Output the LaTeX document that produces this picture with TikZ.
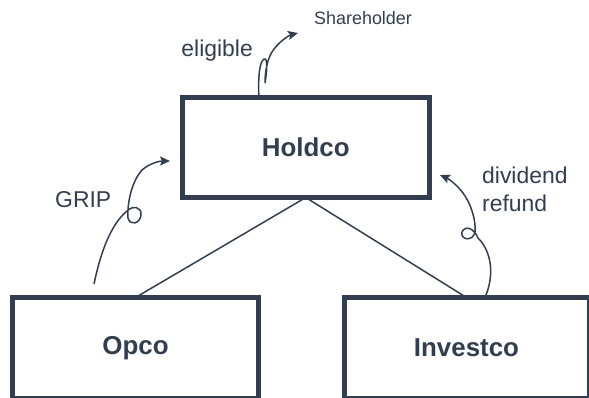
\documentclass[tikz,border=0pt]{standalone}
\usepackage{fontspec}
\setmainfont{Liberation Sans}
\usetikzlibrary{arrows.meta}
\definecolor{slate}{RGB}{50,62,80}

\begin{document}
\begin{tikzpicture}[x=1bp,y=-1bp]
            \tikzset{entity/.style = {draw=slate, line width=5bp, outer sep=0pt, inner sep=0pt, text=slate, font=\fontsize{26}{30}\selectfont\bfseries}}
            \tikzset{note/.style = {inner sep=0pt, text=slate, font=\fontsize{23}{28}\selectfont}}
            \tikzset{link/.style = {draw=slate, line width=1.5bp}}
            \tikzset{flow/.style = {draw=slate, line width=1.5bp, -{Stealth[length=10bp,width=9bp,inset=2bp]}}}
            \useasboundingbox (0,0) rectangle (589,397);
            % entities
            \node[entity, minimum width=246.5bp, minimum height=100.5bp] (holdco) at (305.75,147.25) {Holdco};
            \node[entity, minimum width=246bp, minimum height=101bp] (opco) at (135.5,348) {Opco};
            \node[entity, minimum width=245bp, minimum height=101bp] (investco) at (466.5,348) {Investco};
            % labels
            \node[note, anchor=base west] (grip) at (55,207) {GRIP};
            \node[note, anchor=base east] (eligible) at (253,56) {eligible};
            \node[note, anchor=base west, font=\fontsize{18}{22}\selectfont] (shareholder) at (314,24) {Shareholder};
            \node[note, anchor=base west, align=left] (dividend) at (482,211) {dividend\\refund};
            % ownership
            \draw[link] (holdco.south) -- (opco.north);
            \draw[link] (holdco.south) -- (investco.north);
            % flows
            \coordinate (gripstart) at (94,284);
            \coordinate (griptip) at (170,161);
            \coordinate (eligstart) at (259,99);
            \coordinate (eligtip) at (298,33);
            \coordinate (divstart) at (486,295);
            \coordinate (divtip) at (440,175);
            \draw[flow] (gripstart) .. controls (100,255) and (110,225) .. (127,211)
                .. controls (133,205) and (142,207) .. (141,215)
                .. controls (140,224) and (130,226) .. (128,218)
                .. controls (127,200) and (133,180) .. (142,170)
                .. controls (150,163) and (160,161) .. (griptip);
            \draw[flow] (eligstart) .. controls (258,80) and (259,62) .. (264,59)
                .. controls (268,57) and (267,72) .. (265,83)
                .. controls (265,72) and (267,58) .. (274,49)
                .. controls (281,40) and (290,35) .. (eligtip);
            \draw[flow] (divstart) .. controls (494,275) and (492,252) .. (478,238)
                .. controls (474,228) and (465,225) .. (462,232)
                .. controls (460,240) and (473,242) .. (475,232)
                .. controls (476,222) and (472,205) .. (463,193)
                .. controls (457,185) and (449,179) .. (divtip);
\end{tikzpicture}
\end{document}
